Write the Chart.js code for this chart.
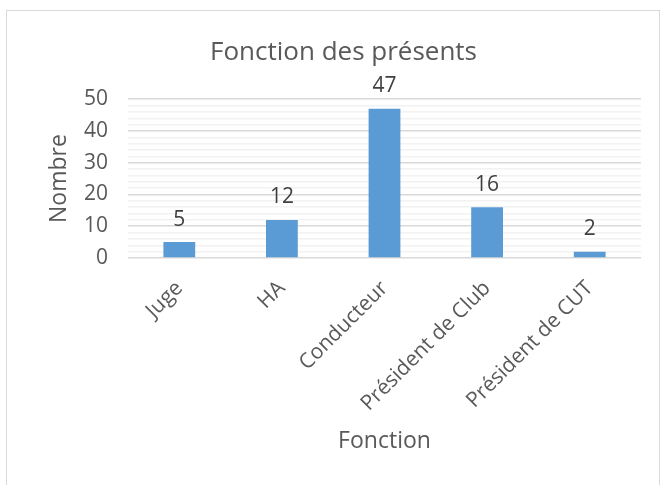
<!DOCTYPE html>
<html lang="fr">
<head>
  <meta charset="UTF-8" />
  <title>Fonction des présents</title>
  <style>
    html, body { margin: 0; padding: 0; background: #fff; }
    #box {
      position: absolute; left: 6px; top: 10px;
      width: 654px; height: 480px;
      border: 1px solid #d9d9d9; box-sizing: border-box;
    }
  </style>
</head>
<body>
  <div id="box"><canvas id="chart"></canvas></div>

  <script src="https://cdn.jsdelivr.net/npm/chart.js@4.4.1/dist/chart.umd.min.js"></script>
  <script>
    // données
    const categories = ["Juge", "HA", "Conducteur", "Président de Club", "Président de CUT"];
    const counts = [5, 12, 47, 16, 2];
    const yTicks = [0, 10, 20, 30, 40, 50];

    const grey = "#595959";
    const fontFamily = "'Open Sans', sans-serif";

    // étiquettes de valeur au-dessus des barres
    const valueLabels = {
      id: "valueLabels",
      afterDatasetsDraw(chart) {
        const ctx = chart.ctx;
        const meta = chart.getDatasetMeta(0);
        ctx.save();
        ctx.font = "21px " + fontFamily;
        ctx.fillStyle = "#404040";
        ctx.textAlign = "center";
        ctx.textBaseline = "bottom";
        meta.data.forEach((bar, i) => {
          ctx.fillText(String(counts[i]), bar.x, bar.y - 12);
        });
        ctx.restore();
      }
    };

    new Chart(document.getElementById("chart"), {
      type: "bar",
      data: {
        labels: categories,
        datasets: [{
          data: counts,
          backgroundColor: "#5b9bd5",
          categoryPercentage: 1,
          barPercentage: 0.31
        }]
      },
      options: {
        responsive: true,
        maintainAspectRatio: false,
        animation: false,
        layout: { padding: { left: 39, right: 18, top: 0, bottom: 30 } },
        plugins: {
          legend: { display: false },
          tooltip: { enabled: false },
          title: {
            display: true,
            text: "Fonction des présents",
            color: grey,
            font: { family: fontFamily, size: 26, weight: "normal" },
            padding: { top: 26, bottom: 31 }
          }
        },
        scales: {
          x: {
            grid: { display: false },
            border: { display: false },
            ticks: {
              color: grey,
              font: { family: fontFamily, size: 21 },
              minRotation: 45,
              maxRotation: 45,
              padding: 10
            },
            title: {
              display: true,
              text: "Fonction",
              color: grey,
              font: { family: fontFamily, size: 23 },
              padding: { top: 0 }
            },
            afterFit: scale => { scale.height = 201; }
          },
          y: {
            min: 0,
            max: 50,
            border: { display: false },
            grid: {
              color: c => (yTicks.includes(c.tick.value) ? "#d9d9d9" : "#f2f2f2"),
              lineWidth: 1.5,
              drawTicks: false
            },
            ticks: {
              stepSize: 2,
              autoSkip: false,
              maxTicksLimit: 30,
              color: grey,
              font: { family: fontFamily, size: 21 },
              padding: 20,
              callback: v => (yTicks.includes(v) ? v : "")
            },
            title: {
              display: true,
              text: "Nombre",
              color: grey,
              font: { family: fontFamily, size: 23 },
              padding: 0
            },
            afterFit: scale => { scale.width = 82; }
          }
        }
      },
      plugins: [valueLabels]
    });
  </script>
</body>
</html>
